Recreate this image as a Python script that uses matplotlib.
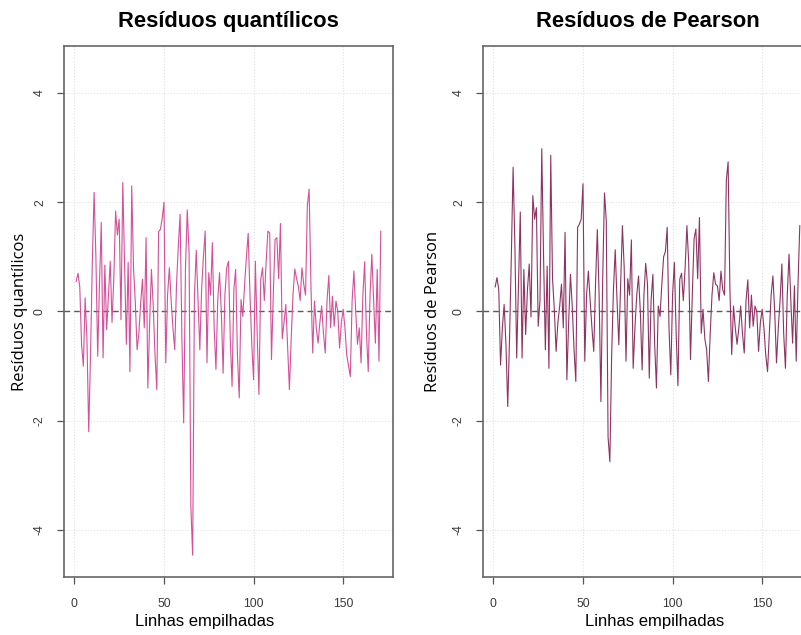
import matplotlib
matplotlib.use("Agg")
import matplotlib.pyplot as plt

plt.rcParams["axes.unicode_minus"] = False
plt.rcParams["font.family"] = ["Liberation Sans", "DejaVu Sans"]

# residuals per stacked row
res_quantil = [
    0.55, 0.70, 0.45, -0.60, -1.00, 0.25, -0.50, -2.20, -0.80, 0.90,
    2.18, 1.00, -0.82, 0.50, 1.63, -0.85, 0.85, -0.33, 0.30, 0.92,
    -0.20, 0.60, 1.84, 1.40, 1.69, -0.15, 2.36, 0.90, -0.60, 0.90,
    -1.10, 2.30, 0.80, 0.16, -0.70, -0.40, 0.16, 0.59, -0.30, 1.35,
    -1.40, -0.20, 0.77, 0.10, -0.80, -1.43, 1.46, 1.50, 1.70, 2.00,
    -0.94, 0.30, 0.80, 0.20, -0.30, -0.70, 0.50, 1.20, 1.78, -0.50,
    -2.04, 0.80, 1.86, 1.08, -3.57, -4.46, 0.30, 1.12, 0.20, -0.70,
    0.40, 1.00, 1.47, -0.94, 0.71, 0.30, 1.26, -0.30, -1.06, 0.20,
    0.71, 0.00, -1.13, 0.30, 0.80, 0.92, -0.50, -1.37, 0.40, 0.77,
    -0.80, -1.58, 0.22, -0.09, 0.50, 1.00, 1.43, 0.30, -0.60, -1.25,
    0.92, -0.40, -1.52, 0.59, 0.80, 0.20, 0.90, 1.47, 1.44, -0.88,
    0.30, 1.32, 1.35, 0.60, 1.61, -0.50, -0.20, 0.13, -0.64, -1.43,
    -0.50, 0.30, 0.78, 0.60, 0.46, 0.20, 0.80, 0.50, 0.30, 1.93,
    2.24, 0.50, -0.76, 0.19, -0.30, -0.58, -0.20, 0.10, -0.40, -0.76,
    0.20, 0.66, -0.30, 0.28, -0.27, 0.19, 0.00, -0.67, -0.20, 0.04,
    -0.30, -0.80, -1.00, -1.19, 0.20, 0.74, 0.00, -0.60, -0.30, -0.94,
    0.30, 0.91, -0.40, -1.10, 0.30, 1.05, 0.20, -0.58, 0.77, -0.91,
    1.47,
]
res_pearson = [
    0.45, 0.62, 0.40, -0.98, -0.30, 0.13, -0.60, -1.74, -0.50, 1.00,
    2.64, 1.20, -0.85, 0.50, 1.82, -0.85, 0.77, -0.42, 0.40, 0.87,
    -0.10, 2.12, 1.69, 1.90, -0.27, 0.20, 2.98, 1.00, -0.70, 0.83,
    -1.04, 2.86, 0.60, 0.04, -0.73, -0.20, 0.10, 0.50, -0.30, 1.45,
    -1.25, -0.20, 0.68, 0.10, -0.70, -1.28, 1.54, 1.60, 1.69, 2.34,
    -0.91, 0.30, 0.74, 0.20, -0.30, -0.73, 0.50, 1.50, 0.30, -1.65,
    0.60, 2.17, 1.66, -2.30, -2.75, -0.80, 0.40, 1.13, 0.20, -0.61,
    0.50, 1.57, 0.80, -0.91, 0.60, 0.30, 1.31, -1.04, -0.30, 0.30,
    0.65, 0.00, -1.07, 0.30, 0.88, 0.50, -1.22, 0.20, 0.68, -0.60,
    -1.40, 0.10, -0.09, 0.50, 1.00, 1.10, 1.54, -0.30, -1.16, 0.30,
    0.90, -0.40, -1.36, 0.59, 0.70, 0.20, 0.80, 1.57, 0.90, -0.88,
    0.30, 1.33, 1.51, 0.60, 1.72, -0.40, 0.04, -0.50, -0.70, -1.28,
    -0.40, 0.30, 0.71, 0.50, 0.47, 0.20, 0.74, 0.40, 0.30, 2.40,
    2.74, 0.40, -0.79, 0.10, -0.30, -0.60, -0.30, 0.10, -0.40, -0.76,
    0.20, 0.58, -0.30, 0.30, -0.27, 0.10, 0.00, -0.73, -0.20, 0.04,
    -0.30, -0.80, -1.10, -0.40, 0.30, 0.65, 0.00, -0.94, -0.30, 0.20,
    0.87, -0.40, -1.04, 0.30, 1.05, 0.20, -0.58, 0.47, -0.91, 0.50,
    1.57,
]
x_ticks = [0, 50, 100, 150]
y_ticks = [-4, -2, 0, 2, 4]

panels = [
    ("Resíduos quantílicos", "Resíduos quantílicos", res_quantil, "#d4509a",
     0.0799, 0.427, -0.134),
    ("Resíduos de Pearson", "Resíduos de Pearson", res_pearson, "#8e3462",
     0.603, 0.523, -0.152),
]

fig = plt.figure(figsize=(8.01, 6.35), dpi=100)

for title, ylab, vals, col, left, xlab_x, ylab_x in panels:
    ax = fig.add_axes([left, 0.0913, 0.4107, 0.8363])
    xs = range(1, len(vals) + 1)
    n = len(vals)
    pad = 0.04 * (n - 1)
    ax.set_xlim(1 - pad, n + pad)
    ax.set_ylim(-4.86, 4.86)

    for t in x_ticks:
        ax.axvline(t, color="#e0e0e0", lw=0.8, ls=":", zorder=0)
    for t in y_ticks:
        ax.axhline(t, color="#e0e0e0", lw=0.8, ls=":", zorder=0)
    ax.axhline(0, color="#5a5a5a", lw=1.0, ls=(0, (4, 3)), zorder=1)

    ax.plot(xs, vals, color=col, lw=0.8, zorder=2)

    ax.set_xticks(x_ticks)
    ax.set_yticks(y_ticks)
    ax.set_yticklabels([str(t) for t in y_ticks], rotation=90, va="center")
    ax.tick_params(direction="out", length=5, width=0.9, colors="#555555",
                   labelcolor="#3a3a3a", labelsize=8.8)
    ax.tick_params(axis="x", pad=10)
    ax.tick_params(axis="y", pad=8)
    for sp in ax.spines.values():
        sp.set_color("#666666")
        sp.set_linewidth(1.2)

    ax.set_title(title, fontsize=15.8, fontweight="bold", pad=14)
    ax.set_xlabel("Linhas empilhadas", fontsize=12, va="center")
    ax.xaxis.set_label_coords(xlab_x, -0.083)
    ax.set_ylabel(ylab, fontsize=12, family=["Open Sans", "DejaVu Sans"],
                  va="center")
    ax.yaxis.set_label_coords(ylab_x, 0.5)

fig.savefig("out.png", dpi=100)
